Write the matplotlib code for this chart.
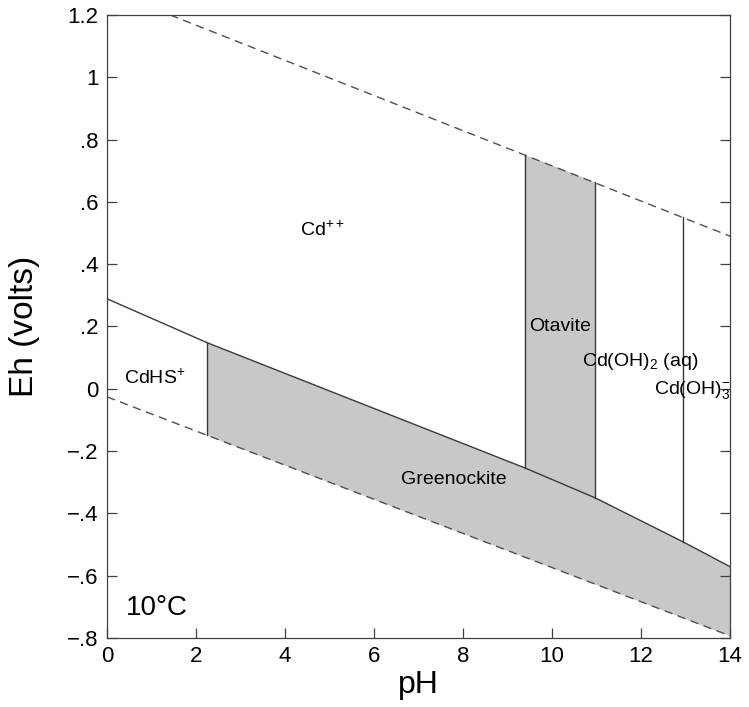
import numpy as np
import matplotlib
matplotlib.use("Agg")
import matplotlib.pyplot as plt

plt.rcParams['font.family'] = ['Liberation Sans', 'DejaVu Sans']
plt.rcParams['mathtext.fontset'] = 'custom'
plt.rcParams['mathtext.rm'] = 'Liberation Sans'
plt.rcParams['mathtext.it'] = 'Liberation Sans'
plt.rcParams['mathtext.default'] = 'regular'

# ---- data ----
water_upper_pH = [1.42, 14.0]
water_upper_Eh = [1.20, 0.49]
water_lower_pH = [0.0, 14.0]
water_lower_Eh = [-0.026, -0.793]
sulfide_pH = [0.0, 2.25, 9.39, 10.97, 12.94, 14.0]
sulfide_Eh = [0.289, 0.148, -0.254, -0.350, -0.491, -0.571]
# vertical boundaries: pH, bottom Eh, top Eh
vert_pH = [2.25, 9.39, 10.97, 12.94]
vert_bot = [-0.149, -0.254, -0.350, -0.491]
vert_top = [0.148, 0.751, 0.663, 0.552]

labels = ['Cd$^{++}$', 'CdHS$^{+}$', 'Otavite', 'Cd(OH)$_{2}$ (aq)',
          'Cd(OH)$_{3}^{-}$', 'Greenockite']
label_pH = [4.83, 1.08, 10.18, 11.97, 13.15, 7.8]
label_Eh = [0.51, 0.035, 0.20, 0.087, -0.005, -0.29]

xticks = [0, 2, 4, 6, 8, 10, 12, 14]
yticks = [1.2, 1.0, 0.8, 0.6, 0.4, 0.2, 0.0, -0.2, -0.4, -0.6, -0.8]
yticklabels = ['1.2', '1', '.8', '.6', '.4', '.2', '0', '\u2212.2', '\u2212.4', '\u2212.6', '\u2212.8']

fill_c = '#c8c8c8'
line_c = '#3a3a3a'
dash_c = '#505050'

fig = plt.figure(figsize=(7.49, 7.07), dpi=100)
ax = fig.add_axes([107/749, 1-638/707, (730-107)/749, (638-15)/707])

# Greenockite field
g_pH = np.array(sulfide_pH[1:])
g_top = np.array(sulfide_Eh[1:])
g_bot = np.interp(g_pH, water_lower_pH, water_lower_Eh)
ax.fill_between(g_pH, g_bot, g_top, color=fill_c, lw=0, zorder=1)

# Otavite field
ot_x = [vert_pH[1], vert_pH[2], vert_pH[2], vert_pH[1]]
ot_y = [vert_top[1], vert_top[2], vert_bot[2], vert_bot[1]]
ax.fill(ot_x, ot_y, color=fill_c, lw=0, zorder=1)

# water stability lines
ax.plot(water_upper_pH, water_upper_Eh, ls=(0, (6, 4)), color=dash_c, lw=1.0, zorder=2)
ax.plot(water_lower_pH, water_lower_Eh, ls=(0, (6, 4)), color=dash_c, lw=1.0, zorder=2)

# boundaries
ax.plot(sulfide_pH, sulfide_Eh, color=line_c, lw=1.0, zorder=3)
for p, b, t in zip(vert_pH, vert_bot, vert_top):
    ax.plot([p, p], [b, t], color=line_c, lw=1.0, zorder=3)

for s, x, y in zip(labels, label_pH, label_Eh):
    ax.text(x, y, s, fontsize=14, ha='center', va='center', zorder=4)

ax.text(1.12, -0.703, '10\u00b0C', fontsize=20, ha='center', va='center')

ax.set_xlim(0, 14)
ax.set_ylim(-0.8, 1.2)
ax.set_xticks(xticks)
ax.set_xticklabels([str(t) for t in xticks])
ax.set_yticks(yticks)
ax.set_yticklabels(yticklabels)
ax.tick_params(direction='in', length=7, width=0.9, labelsize=16, pad=6,
               right=True, color='#404040')
for sp in ax.spines.values():
    sp.set_linewidth(0.9)
    sp.set_color('#404040')

ax.set_xlabel('pH', fontsize=23, labelpad=2)
ax.set_ylabel('Eh (volts)', fontsize=24, va='center')
ax.yaxis.set_label_coords(-0.132, 0.5)

fig.savefig('out.png', dpi=100)
